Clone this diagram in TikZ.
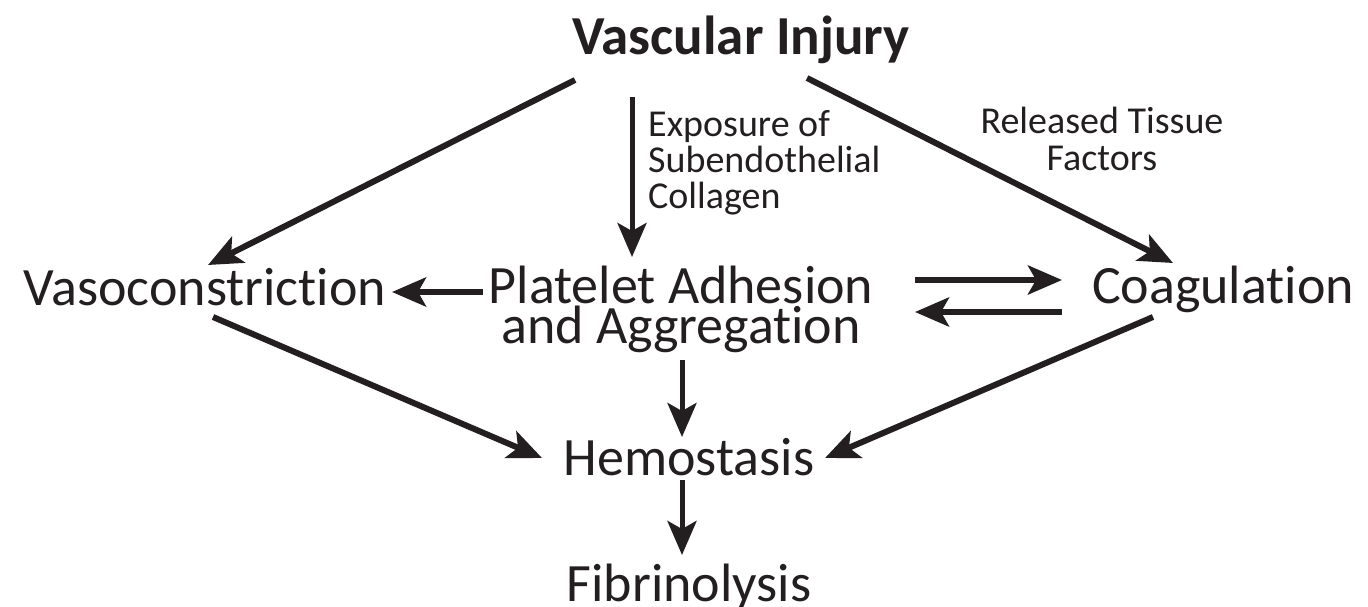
\documentclass[tikz,border=0pt]{standalone}
\usepackage{fontspec}
\setmainfont{Carlito}[Ligatures=NoCommon]
\usetikzlibrary{arrows.meta}
\definecolor{ink}{RGB}{35,31,32}

\begin{document}
\begin{tikzpicture}[x=1pt,y=-1pt,line cap=butt,
  stage/.style={inner sep=0,anchor=base,text=ink,align=center,font=\fontsize{54}{40}\selectfont},
  remark/.style={inner sep=0,anchor=base,text=ink,font=\fontsize{38}{36}\selectfont},
  arr/.style={draw=ink,line width=6pt,-{Stealth[length=34pt,width=29pt,inset=8pt]}},
  thinarr/.style={arr,line width=5pt}]
\useasboundingbox (0,0) rectangle (1368,607);

\node[stage,font=\fontsize{55}{55}\selectfont\bfseries] (injury) at (741,55) {Vascular Injury};
\node[stage] (vaso) at (205,305) {Vasoconstriction};
\node[stage] (plat) at (681,343) {Platelet Adhesion\\and Aggregation};
\node[stage] (coag) at (1223,303) {Coagulation};
\node[stage] (hemo) at (689,475) {Hemostasis};
\node[stage] (fibr) at (689,601) {Fibrinolysis};

\node[remark,anchor=base west,align=left] (expo) at (648,208) {Exposure of\\Subendothelial\\Collagen};
\node[remark,align=center] (tissue) at (1102,170) {Released Tissue\\Factors};

% from the injury
\draw[arr] ([shift={(-166,25)}]injury.base) -- ([shift={(3,-40)}]vaso.base);
\draw[thinarr] ([shift={(-109,42)}]injury.base) -- ([shift={(-49,-86)}]plat.base);
\draw[arr] ([shift={(66,23)}]injury.base) -- ([shift={(-50,-40)}]coag.base);

% middle row
\draw[arr] ([shift={(-198,-51)}]plat.base) -- ([shift={(187,-13)}]vaso.base);
\draw[arr] ([shift={(234,-63)}]plat.base) -- ([shift={(-161,-23)}]coag.base);
\draw[arr] ([shift={(-161,9)}]coag.base) -- ([shift={(234,-31)}]plat.base);

% down to hemostasis
\draw[arr] ([shift={(8,12)}]vaso.base) -- ([shift={(-147,-17)}]hemo.base);
\draw[thinarr] ([shift={(1,17)}]plat.base) -- ([shift={(-7,-38)}]hemo.base);
\draw[arr] ([shift={(-70,14)}]coag.base) -- ([shift={(136,-17)}]hemo.base);
\draw[thinarr] ([shift={(-7,5)}]hemo.base) -- ([shift={(-7,-46)}]fibr.base);
\end{tikzpicture}
\end{document}
